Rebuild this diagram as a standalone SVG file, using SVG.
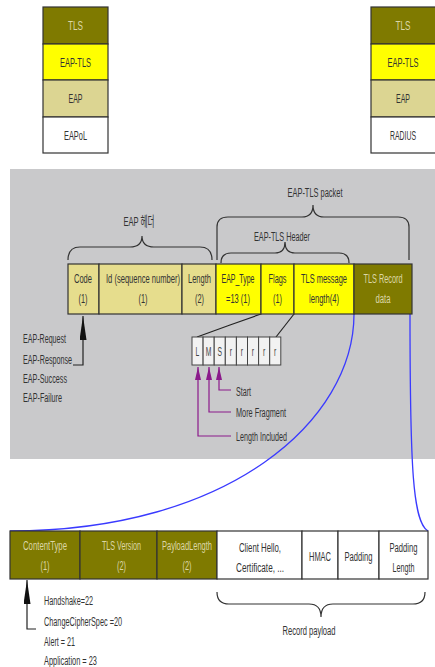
<svg xmlns="http://www.w3.org/2000/svg" width="435" height="667" viewBox="0 0 435 667">
<defs>
<style>
text{font-family:"Liberation Sans","Noto Sans CJK KR",sans-serif;font-size:13.5px;fill:#333;text-anchor:middle}
.l{text-anchor:start}
.lt{fill:#dcd7a6}
.b{font-size:13.5px;fill:#444}
.cell{stroke:#333;stroke-width:1.2}
.ol{fill:#7f7a00}
.ye{fill:#ffff00}
.kh{fill:#dcd592}
.kh2{fill:#e6dd8d}
.wh{fill:#fff}
.bit{fill:#f2f2f2;stroke:#444;stroke-width:1}
.brace{fill:none;stroke:#333;stroke-width:1.2}
.blue{fill:none;stroke:#3a3aff;stroke-width:1.3}
.pl{fill:none;stroke:#8b1a8b;stroke-width:1.2}
.bl{fill:none;stroke:#222;stroke-width:1.2}
</style>
<marker id="pa" viewBox="0 0 13 6" refX="13" refY="3" markerWidth="13" markerHeight="6" markerUnits="userSpaceOnUse" orient="auto-start-reverse"><path d="M0,0 L13,3 L0,6 z" fill="#8b1a8b"/></marker>
<marker id="ba" viewBox="0 0 24 7" refX="24" refY="3.5" markerWidth="24" markerHeight="7" markerUnits="userSpaceOnUse" orient="auto-start-reverse"><path d="M0,0 L24,3.5 L0,7 z" fill="#111"/></marker>
</defs>
<rect width="435" height="667" fill="#fff"/>
<rect x="10" y="169" width="426" height="290" fill="#c9c9cb"/>

<g id="stack-left">
<rect class="cell ol" x="43" y="7" width="65" height="37"/>
<rect class="cell ye" x="43" y="44" width="65" height="36"/>
<rect class="cell kh" x="43" y="80" width="65" height="37"/>
<rect class="cell wh" x="43" y="117" width="65" height="36"/>
<g transform="scale(0.5,1)">
<text class="lt" x="151" y="30" textLength="30" lengthAdjust="spacingAndGlyphs">TLS</text>
<text x="151" y="67" textLength="62" lengthAdjust="spacingAndGlyphs">EAP-TLS</text>
<text x="151" y="103.5" textLength="28" lengthAdjust="spacingAndGlyphs">EAP</text>
<text x="151" y="140" textLength="46" lengthAdjust="spacingAndGlyphs">EAPoL</text>
</g>
</g>

<g id="stack-right">
<rect class="cell ol" x="371" y="7" width="66" height="37"/>
<rect class="cell ye" x="371" y="44" width="66" height="36"/>
<rect class="cell kh" x="371" y="80" width="66" height="37"/>
<rect class="cell wh" x="371" y="117" width="66" height="36"/>
<g transform="scale(0.5,1)">
<text class="lt" x="806" y="30" textLength="30" lengthAdjust="spacingAndGlyphs">TLS</text>
<text x="806" y="67" textLength="62" lengthAdjust="spacingAndGlyphs">EAP-TLS</text>
<text x="806" y="103.5" textLength="28" lengthAdjust="spacingAndGlyphs">EAP</text>
<text x="806" y="140" textLength="52" lengthAdjust="spacingAndGlyphs">RADIUS</text>
</g>
</g>

<g id="connectors">
<path class="blue" d="M354,314 C354,420 230,531 10,531"/>
<path class="blue" d="M410,314 C410,470 413,522 428,531"/>
<path class="bl" d="M261,314 L230,325 L197,337"/>
<path class="bl" d="M294,314 L276,337"/>
<polyline class="bl" points="73,365 83,365 83,316" marker-end="url(#ba)"/>
<polyline class="bl" points="36,629 27,629 27,580" marker-end="url(#ba)"/>
<polyline class="pl" points="231,390 219,390 219,367" marker-end="url(#pa)"/>
<polyline class="pl" points="231,412 209,412 209,367" marker-end="url(#pa)"/>
<polyline class="pl" points="231,436 198,436 198,367" marker-end="url(#pa)"/>
</g>

<g id="brace-eap-header">
<path class="brace" d="M68,260 Q68,247 80,247 L130,247 Q142,247 142,236 Q142,247 154,247 L200,247 Q212,247 212,260"/>
<g transform="scale(0.5,1)"><text x="278" y="226" textLength="62" lengthAdjust="spacingAndGlyphs">EAP 헤더</text></g>
</g>
<g id="brace-eaptls-packet">
<path class="brace" d="M217,260 L217,227 Q217,217 228,217 L302,217 Q313,217 313,205 Q313,217 324,217 L398,217 Q409,217 409,227 L409,260"/>
<g transform="scale(0.5,1)"><text x="630" y="197" textLength="110" lengthAdjust="spacingAndGlyphs">EAP-TLS packet</text></g>
</g>
<g id="brace-eaptls-header">
<path class="brace" d="M221,263 Q221,253 231,253 L275,253 Q285,253 285,242 Q285,253 295,253 L339,253 Q349,253 349,263"/>
<g transform="scale(0.5,1)"><text x="564" y="241" textLength="112" lengthAdjust="spacingAndGlyphs">EAP-TLS Header</text></g>
</g>

<g id="field-code">
<rect class="cell kh2" x="68" y="264" width="31" height="50"/>
<g transform="scale(0.5,1)">
<text x="166" y="283" textLength="36" lengthAdjust="spacingAndGlyphs">Code</text>
<text x="166" y="303" textLength="18" lengthAdjust="spacingAndGlyphs">(1)</text>
</g>
</g>
<g id="field-id">
<rect class="cell kh2" x="99" y="264" width="83" height="50"/>
<g transform="scale(0.5,1)">
<text x="286" y="283" textLength="148" lengthAdjust="spacingAndGlyphs">Id (sequence number)</text>
<text x="286" y="303" textLength="18" lengthAdjust="spacingAndGlyphs">(1)</text>
</g>
</g>
<g id="field-length">
<rect class="cell kh2" x="182" y="264" width="34" height="50"/>
<g transform="scale(0.5,1)">
<text x="399" y="283" textLength="46" lengthAdjust="spacingAndGlyphs">Length</text>
<text x="399" y="303" textLength="18" lengthAdjust="spacingAndGlyphs">(2)</text>
</g>
</g>
<g id="field-eaptype">
<rect class="cell ye" x="216" y="264" width="45" height="50"/>
<g transform="scale(0.5,1)">
<text x="476" y="283" textLength="66" lengthAdjust="spacingAndGlyphs">EAP_Type</text>
<text x="476" y="303" textLength="48" lengthAdjust="spacingAndGlyphs">=13 (1)</text>
</g>
</g>
<g id="field-flags">
<rect class="cell ye" x="261" y="264" width="33" height="50"/>
<g transform="scale(0.5,1)">
<text x="555" y="283" textLength="36" lengthAdjust="spacingAndGlyphs">Flags</text>
<text x="555" y="303" textLength="18" lengthAdjust="spacingAndGlyphs">(1)</text>
</g>
</g>
<g id="field-tlsmsglen">
<rect class="cell ye" x="294" y="264" width="60" height="50"/>
<g transform="scale(0.5,1)">
<text x="648" y="283" textLength="92" lengthAdjust="spacingAndGlyphs">TLS message</text>
<text x="648" y="303" textLength="60" lengthAdjust="spacingAndGlyphs">length(4)</text>
</g>
</g>
<g id="field-tlsrecord">
<rect class="cell ol" x="354" y="264" width="58" height="50"/>
<g transform="scale(0.5,1)">
<text class="lt" x="766" y="283" textLength="78" lengthAdjust="spacingAndGlyphs">TLS Record</text>
<text class="lt" x="766" y="303" textLength="30" lengthAdjust="spacingAndGlyphs">data</text>
</g>
</g>

<g id="eap-codes">
<g transform="scale(0.5,1)">
<text class="l" x="46" y="343" textLength="86" lengthAdjust="spacingAndGlyphs">EAP-Request</text>
<text class="l" x="46" y="364" textLength="98" lengthAdjust="spacingAndGlyphs">EAP-Response</text>
<text class="l" x="46" y="383" textLength="88" lengthAdjust="spacingAndGlyphs">EAP-Success</text>
<text class="l" x="46" y="402" textLength="78" lengthAdjust="spacingAndGlyphs">EAP-Failure</text>
</g>
</g>

<g id="flag-bits">
<rect class="bit" x="192" y="337" width="11.1" height="28"/>
<rect class="bit" x="203.1" y="337" width="11.1" height="28"/>
<rect class="bit" x="214.2" y="337" width="11.1" height="28"/>
<rect class="bit" x="225.3" y="337" width="11.1" height="28"/>
<rect class="bit" x="236.4" y="337" width="11.1" height="28"/>
<rect class="bit" x="247.5" y="337" width="11.1" height="28"/>
<rect class="bit" x="258.6" y="337" width="11.1" height="28"/>
<rect class="bit" x="269.7" y="337" width="11.1" height="28"/>
<g transform="scale(0.5,1)">
<text class="b" x="395" y="356">L</text>
<text class="b" x="417.2" y="356">M</text>
<text class="b" x="439.4" y="356">S</text>
<text class="b" x="461.6" y="356">r</text>
<text class="b" x="483.8" y="356">r</text>
<text class="b" x="506" y="356">r</text>
<text class="b" x="528.2" y="356">r</text>
<text class="b" x="550.4" y="356">r</text>
</g>
</g>
<g id="flag-labels">
<g transform="scale(0.5,1)">
<text class="l" x="472" y="396" textLength="30" lengthAdjust="spacingAndGlyphs">Start</text>
<text class="l" x="472" y="417" textLength="100" lengthAdjust="spacingAndGlyphs">More Fragment</text>
<text class="l" x="472" y="441" textLength="102" lengthAdjust="spacingAndGlyphs">Length Included</text>
</g>
</g>

<g id="rec-contenttype">
<rect class="cell ol" x="10" y="531" width="70" height="48"/>
<g transform="scale(0.5,1)">
<text class="lt" x="90" y="550" textLength="88" lengthAdjust="spacingAndGlyphs">ContentType</text>
<text class="lt" x="90" y="570" textLength="18" lengthAdjust="spacingAndGlyphs">(1)</text>
</g>
</g>
<g id="rec-version">
<rect class="cell ol" x="80" y="531" width="77" height="48"/>
<g transform="scale(0.5,1)">
<text class="lt" x="243" y="550" textLength="78" lengthAdjust="spacingAndGlyphs">TLS Version</text>
<text class="lt" x="243" y="570" textLength="18" lengthAdjust="spacingAndGlyphs">(2)</text>
</g>
</g>
<g id="rec-payloadlength">
<rect class="cell ol" x="157" y="531" width="60" height="48"/>
<g transform="scale(0.5,1)">
<text class="lt" x="374" y="550" textLength="100" lengthAdjust="spacingAndGlyphs">PayloadLength</text>
<text class="lt" x="374" y="570" textLength="18" lengthAdjust="spacingAndGlyphs">(2)</text>
</g>
</g>
<g id="rec-clienthello">
<rect class="cell wh" x="217" y="531" width="85" height="48"/>
<g transform="scale(0.5,1)">
<text x="520" y="552" textLength="84" lengthAdjust="spacingAndGlyphs">Client Hello,</text>
<text x="520" y="572" textLength="96" lengthAdjust="spacingAndGlyphs">Certificate, ...</text>
</g>
</g>
<g id="rec-hmac">
<rect class="cell wh" x="302" y="531" width="36" height="48"/>
<g transform="scale(0.5,1)">
<text x="640" y="561" textLength="44" lengthAdjust="spacingAndGlyphs">HMAC</text>
</g>
</g>
<g id="rec-padding">
<rect class="cell wh" x="338" y="531" width="41" height="48"/>
<g transform="scale(0.5,1)">
<text x="717" y="561" textLength="56" lengthAdjust="spacingAndGlyphs">Padding</text>
</g>
</g>
<g id="rec-paddinglength">
<rect class="cell wh" x="379" y="531" width="49" height="48"/>
<g transform="scale(0.5,1)">
<text x="807" y="552" textLength="56" lengthAdjust="spacingAndGlyphs">Padding</text>
<text x="807" y="572" textLength="44" lengthAdjust="spacingAndGlyphs">Length</text>
</g>
</g>

<g id="content-types">
<g transform="scale(0.5,1)">
<text class="l" x="88" y="605" textLength="98" lengthAdjust="spacingAndGlyphs">Handshake=22</text>
<text class="l" x="88" y="626" textLength="156" lengthAdjust="spacingAndGlyphs">ChangeCipherSpec =20</text>
<text class="l" x="88" y="646" textLength="62" lengthAdjust="spacingAndGlyphs">Alert = 21</text>
<text class="l" x="88" y="665" textLength="106" lengthAdjust="spacingAndGlyphs">Application = 23</text>
</g>
</g>

<g id="brace-record-payload">
<path class="brace" d="M217,592 Q217,604 229,604 L309,604 Q321,604 321,617 Q321,604 333,604 L413,604 Q425,604 425,592"/>
<g transform="scale(0.5,1)"><text x="618" y="635" textLength="106" lengthAdjust="spacingAndGlyphs">Record payload</text></g>
</g>
</svg>
